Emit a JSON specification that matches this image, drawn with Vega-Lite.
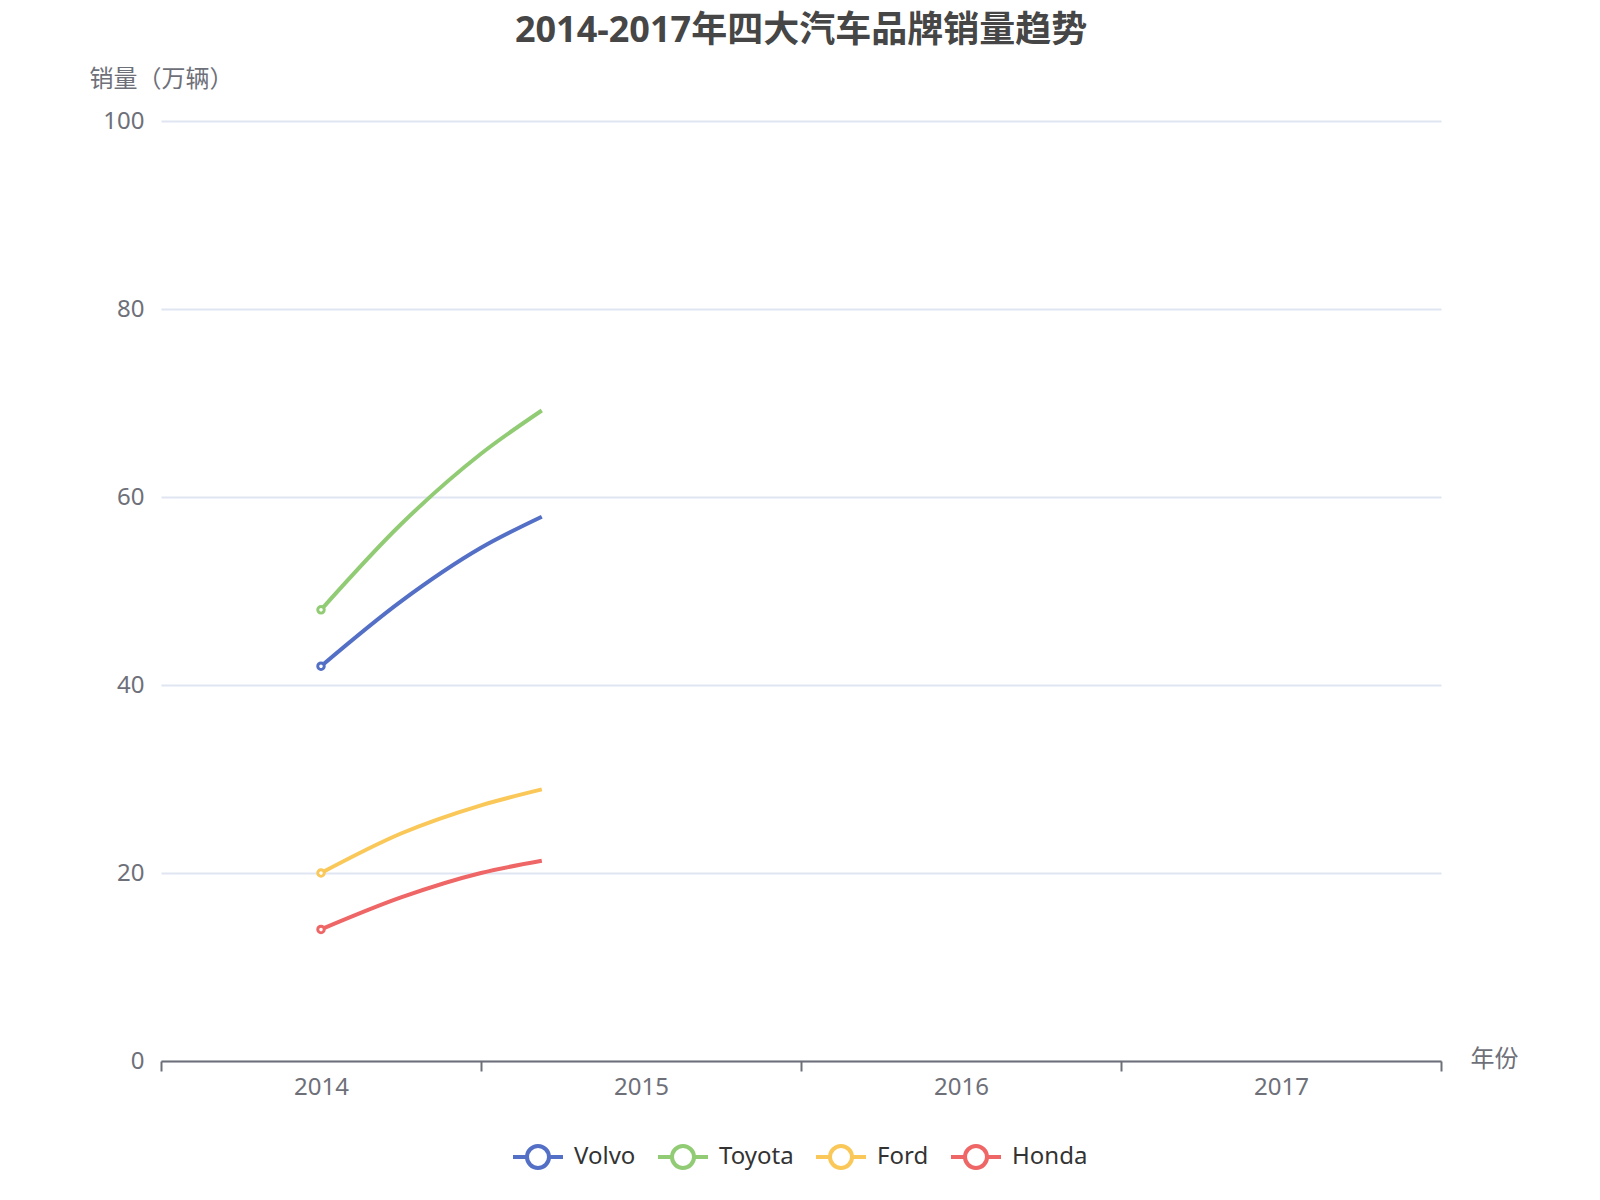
{
  "$schema": "https://vega.github.io/schema/vega-lite/v6.json",
  "width": 1280,
  "height": 940,
  "autosize": "none",
  "padding": {"left": 161, "top": 121, "right": 159, "bottom": 139},
  "background": "white",
  "config": {
    "font": "Noto Sans, Noto Sans CJK SC",
    "view": {"stroke": null}
  },
  "title": {
    "text": "2014-2017年四大汽车品牌销量趋势",
    "font": "Noto Sans, Noto Sans CJK SC",
    "fontSize": 36,
    "fontWeight": "bold",
    "color": "#464646",
    "anchor": "middle",
    "offset": 17
  },
  "data": {
    "values": [
      {"brand": "Volvo", "year": 2014, "sales": 42},
      {"brand": "Volvo", "year": 2014.25, "sales": 48.9},
      {"brand": "Volvo", "year": 2014.5, "sales": 54.6},
      {"brand": "Volvo", "year": 2014.69, "sales": 57.9},
      {"brand": "Toyota", "year": 2014, "sales": 48},
      {"brand": "Toyota", "year": 2014.25, "sales": 57.1},
      {"brand": "Toyota", "year": 2014.5, "sales": 64.6},
      {"brand": "Toyota", "year": 2014.69, "sales": 69.2},
      {"brand": "Ford", "year": 2014, "sales": 20},
      {"brand": "Ford", "year": 2014.25, "sales": 24.2},
      {"brand": "Ford", "year": 2014.5, "sales": 27.2},
      {"brand": "Ford", "year": 2014.69, "sales": 28.9},
      {"brand": "Honda", "year": 2014, "sales": 14},
      {"brand": "Honda", "year": 2014.25, "sales": 17.4},
      {"brand": "Honda", "year": 2014.5, "sales": 20.0},
      {"brand": "Honda", "year": 2014.69, "sales": 21.3}
    ]
  },
  "encoding": {
    "x": {
      "field": "year",
      "type": "quantitative",
      "scale": {"domain": [2013.5, 2017.5], "nice": false, "zero": false},
      "axis": {
        "values": [2013.5, 2014, 2014.5, 2015, 2015.5, 2016, 2016.5, 2017, 2017.5],
        "labelExpr": "datum.value % 1 === 0 ? format(datum.value, 'd') : ''",
        "labelOverlap": false,
        "labelFlush": false,
        "labelFontSize": 24,
        "labelColor": "#6E7079",
        "labelPadding": 4,
        "tickSize": 10,
        "tickWidth": 2,
        "tickColor": "#6E7079",
        "tickOpacity": {"condition": {"test": "datum.value % 1 === 0", "value": 0}, "value": 1},
        "domainColor": "#6E7079",
        "domainWidth": 2,
        "grid": false,
        "title": "年份",
        "titleFontSize": 24,
        "titleFontWeight": "normal",
        "titleColor": "#6E7079",
        "titleAngle": 0,
        "titleAlign": "left",
        "titleBaseline": "middle",
        "titleX": 1309,
        "titleY": -2
      }
    },
    "y": {
      "field": "sales",
      "type": "quantitative",
      "scale": {"domain": [0, 100], "nice": false},
      "axis": {
        "values": [0, 20, 40, 60, 80, 100],
        "labelFontSize": 24,
        "labelColor": "#6E7079",
        "labelPadding": 17,
        "ticks": false,
        "domain": false,
        "grid": true,
        "gridColor": "#E0E6F1",
        "gridWidth": 2,
        "title": "销量（万辆）",
        "titleFontSize": 24,
        "titleFontWeight": "normal",
        "titleColor": "#6E7079",
        "titleAngle": 0,
        "titleAlign": "center",
        "titleBaseline": "bottom",
        "titleX": 0,
        "titleY": -30
      }
    },
    "color": {
      "field": "brand",
      "type": "nominal",
      "scale": {
        "domain": ["Volvo", "Toyota", "Ford", "Honda"],
        "range": ["#5470c6", "#91cc75", "#fac858", "#ee6666"]
      },
      "legend": {
        "orient": "none",
        "direction": "horizontal",
        "legendX": 350,
        "legendY": 1009,
        "title": null,
        "symbolType": "M-1,0H-0.44M0.44,0H1M0.44,0A0.44,0.44,0,1,1,-0.44,0A0.44,0.44,0,1,1,0.44,0Z",
        "symbolSize": 2500,
        "symbolStrokeWidth": 4,
        "symbolFillColor": "white",
        "labelFontSize": 24,
        "labelColor": "#333333",
        "labelOffset": 9,
        "columnPadding": 14,
        "padding": 0
      }
    }
  },
  "layer": [
    {
      "mark": {"type": "line", "interpolate": "monotone", "strokeWidth": 4}
    },
    {
      "transform": [{"filter": "datum.year == 2014"}],
      "mark": {"type": "point", "filled": false, "fill": "white", "fillOpacity": 1, "size": 42, "strokeWidth": 3, "opacity": 1}
    }
  ]
}
